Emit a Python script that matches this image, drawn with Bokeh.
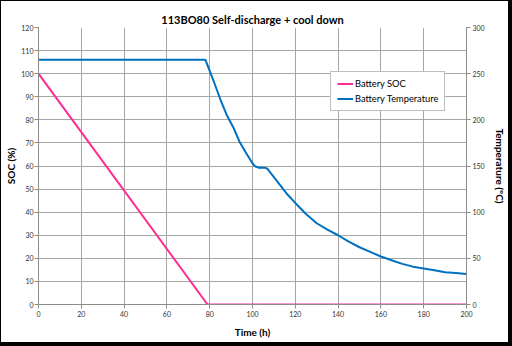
from bokeh.plotting import figure
from bokeh.models import Range1d, LinearAxis, FixedTicker, Legend, LegendItem
from bokeh.embed import file_html
from bokeh.resources import INLINE

title = "113BO80 Self-discharge + cool down"
soc_time = [0, 79, 200]
soc_values = [100, 0, 0]
temp_time = [0, 78, 80, 82, 85, 88, 91, 94, 97, 100, 101, 103, 106, 107, 108,
             110, 113, 116, 120, 125, 130, 135, 140, 145, 150, 155, 160, 165,
             170, 175, 180, 185, 190, 195, 200]
temp_values = [265, 265, 253, 241, 222, 205, 192, 176, 164, 153, 150, 148, 148,
               147, 144, 138, 129, 120, 110, 98, 88, 81, 75, 68, 62, 57, 52, 48,
               44, 41, 39, 37, 35, 34, 33]
x_ticks = list(range(0, 201, 20))
soc_ticks = list(range(0, 121, 10))
temp_ticks = list(range(0, 301, 50))

FONT = "Lato"
GRID = "#a6a6a6"

p = figure(width=512, height=346, output_backend="svg", toolbar_location=None,
           x_range=Range1d(0, 200), y_range=Range1d(0, 120),
           min_border_left=37, min_border_right=47, min_border_top=26,
           min_border_bottom=43)
p.styles = {"border-style": "solid", "border-color": "black",
            "border-width": "1px 4px 4px 1px"}
p.extra_y_ranges = {"temp": Range1d(0, 300)}
p.outline_line_color = None
p.background_fill_color = "white"
p.border_fill_color = "white"

p.title.text = title
p.title.align = "center"
p.title.text_font = FONT
p.title.text_font_size = "11px"
p.title.text_font_style = "bold"
p.title.text_color = "black"
p.title.offset = 0
p.title.standoff = 4

p.xaxis.ticker = FixedTicker(ticks=x_ticks)
p.yaxis.ticker = FixedTicker(ticks=soc_ticks)
p.xgrid.ticker = FixedTicker(ticks=x_ticks)
p.ygrid.ticker = FixedTicker(ticks=soc_ticks)
for g in (p.xgrid, p.ygrid):
    g.grid_line_color = GRID
    g.grid_line_width = 1

right = LinearAxis(y_range_name="temp", ticker=FixedTicker(ticks=temp_ticks))
p.add_layout(right, "right")

p.xaxis.axis_label = "Time (h)"
p.yaxis.axis_label = "SOC (%)"
right.axis_label = "Temperature (°C)"

for ax in (p.xaxis[0], p.yaxis[0], right):
    ax.axis_line_color = "#8c8c8c"
    ax.major_tick_line_color = "#8c8c8c"
    ax.major_tick_out = 4
    ax.major_tick_in = 0
    ax.minor_tick_out = 0
    ax.minor_tick_in = 0
    ax.major_label_text_font = FONT
    ax.major_label_text_font_size = "7px"
    ax.major_label_text_color = "#333333"
    ax.major_label_standoff = 2
    ax.axis_label_text_font = FONT
    ax.axis_label_text_font_size = "10px"
    ax.axis_label_text_font_style = "bold"
    ax.axis_label_text_color = "black"
    ax.axis_label_standoff = 3
p.yaxis[0].axis_label_standoff = 1
p.yaxis[0].major_label_standoff = 1
p.xaxis[0].axis_label_standoff = 6
right.axis_label_standoff = 6

r_soc = p.line(soc_time, soc_values, line_color="#ff2e93", line_width=2)
r_temp = p.line(temp_time, temp_values, line_color="#0070c0", line_width=2,
                y_range_name="temp")

legend = Legend(items=[LegendItem(label="Battery SOC", renderers=[r_soc]),
                       LegendItem(label="Battery Temperature", renderers=[r_temp])],
                location=(292, 193), border_line_color="#7f7f7f",
                border_line_width=1, background_fill_color="white",
                background_fill_alpha=1, label_text_font=FONT,
                label_text_font_size="9.3px", label_text_color="black",
                glyph_width=16, glyph_height=9, label_height=9,
                label_standoff=2, spacing=4, padding=6, margin=0)
p.add_layout(legend, "center")

open("out.html", "w").write(file_html(p, INLINE))
